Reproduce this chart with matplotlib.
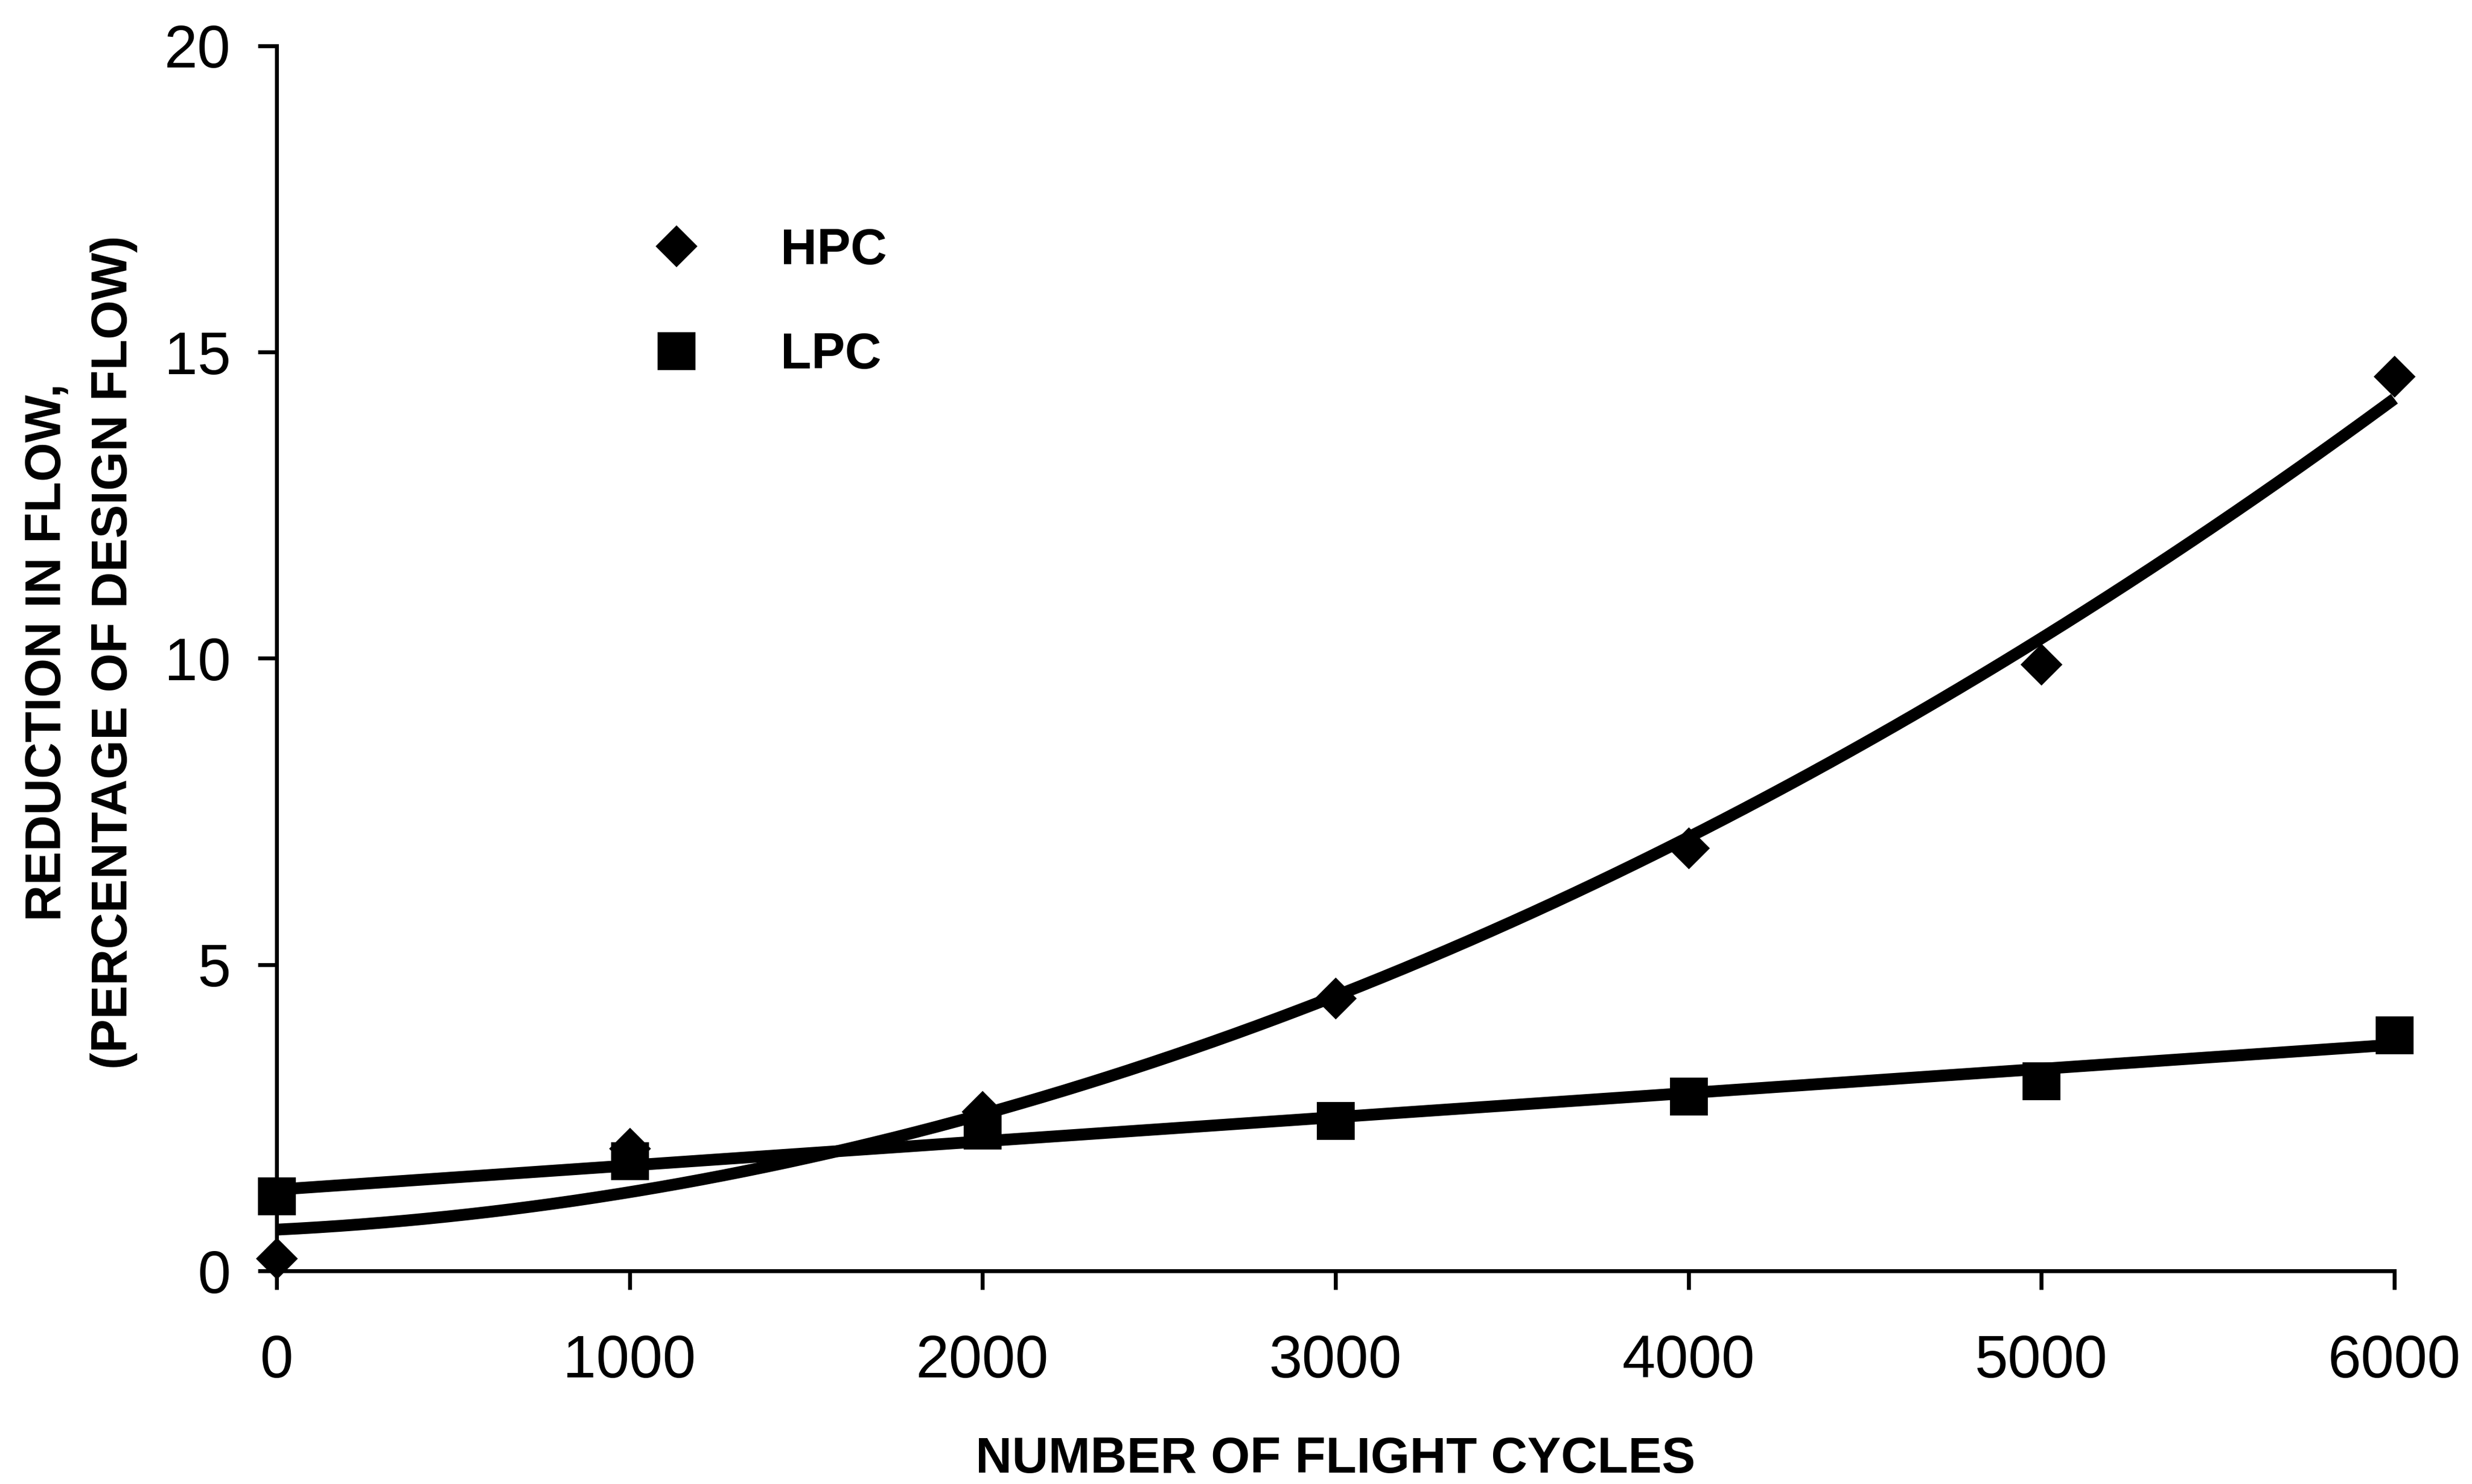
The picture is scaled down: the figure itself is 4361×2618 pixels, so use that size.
import numpy as np
import matplotlib
matplotlib.use("Agg")
import matplotlib.pyplot as plt

# values
cycles = [0, 1000, 2000, 3000, 4000, 5000, 6000]
hpc = [0.2, 2.0, 2.6, 4.45, 6.9, 9.9, 14.6]
lpc = [1.22, 1.8, 2.3, 2.45, 2.85, 3.1, 3.85]
x_ticks = [0, 1000, 2000, 3000, 4000, 5000, 6000]
y_ticks = [0, 5, 10, 15, 20]

plt.rcParams['font.family'] = ['Liberation Sans', 'DejaVu Sans']

fig = plt.figure(figsize=(4361 / 200, 2618 / 200), dpi=200)
ax = fig.add_axes([0.1119, 0.1436, 0.8567, 0.8255])

# trend lines (2nd order polynomial for HPC, linear for LPC) fitted to the points
xs = np.linspace(cycles[0], cycles[-1], 200)
hpc_fit = np.polyval(np.polyfit(cycles, hpc, 2), xs)
lpc_fit = np.polyval(np.polyfit(cycles, lpc, 1), xs)
ax.plot(xs, hpc_fit, color='black', lw=7.5, solid_capstyle='butt', clip_on=False)
ax.plot(xs, lpc_fit, color='black', lw=7.5, solid_capstyle='butt', clip_on=False)

ax.plot(cycles, hpc, ls='none', marker='D', ms=18, color='black', mew=1,
        label='HPC', clip_on=False)
ax.plot(cycles, lpc, ls='none', marker='s', ms=23, color='black', mew=1,
        label='LPC', clip_on=False)

ax.set_xlim(0, 6000)
ax.set_ylim(0, 20)
ax.set_xticks(x_ticks)
ax.set_yticks(y_ticks)

for side in ['top', 'right']:
    ax.spines[side].set_visible(False)
for side in ['left', 'bottom']:
    ax.spines[side].set_linewidth(2.5)

ax.tick_params(axis='both', direction='out', length=12, width=2.5, labelsize=38)
ax.tick_params(axis='x', pad=28)
ax.tick_params(axis='y', pad=17)

ax.set_xlabel('NUMBER OF FLIGHT CYCLES', fontsize=32, fontweight='bold', va='center')
ax.xaxis.set_label_coords(0.5, -0.154)
ax.set_ylabel('REDUCTION IN FLOW,\n(PERCENTAGE OF DESIGN FLOW)', fontsize=32,
              fontweight='bold', linespacing=1.52, va='center')
ax.yaxis.set_label_coords(-0.0925, 0.505)

ax.legend(loc='center left', bbox_to_anchor=(0.1767, 0.790), frameon=False,
          prop={'weight': 'bold', 'size': 32}, handlelength=1.0,
          handletextpad=1.57, labelspacing=1.13, borderpad=0, borderaxespad=0,
          numpoints=1)

fig.savefig('out.png', dpi=200, facecolor='white')
